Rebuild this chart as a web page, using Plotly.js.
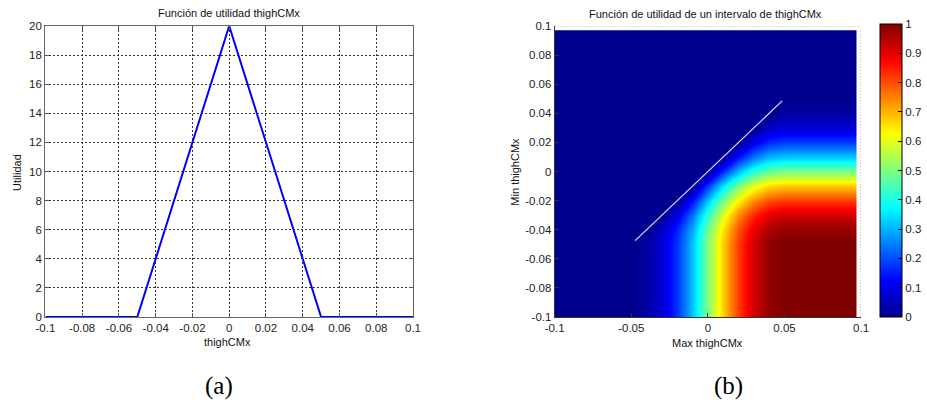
<!DOCTYPE html>
<html>
<head>
<meta charset="utf-8">
<script src="https://cdn.plot.ly/plotly-3.0.1.min.js"></script>
<style>
html,body{margin:0;padding:0;background:#fff;}
#chart{width:927px;height:404px;}
</style>
</head>
<body>
<div id="chart"></div>
<script>
// ---- Panel (a): utility function of thighCMx ----
var utilX = [-0.1, -0.05, 0, 0.05, 0.1];
var utilY = [0, 0, 20, 0, 0];
var aTickVals = [-0.1, -0.08, -0.06, -0.04, -0.02, 0, 0.02, 0.04, 0.06, 0.08, 0.1];
var aTickText = ['-0.1', '-0.08', '-0.06', '-0.04', '-0.02', '0', '0.02', '0.04', '0.06', '0.08', '0.1'];
var aYTickVals = [0, 2, 4, 6, 8, 10, 12, 14, 16, 18, 20];

// ---- Panel (b): utility of an interval [min, max] of thighCMx ----
var gridMax = [-0.1, -0.09, -0.08, -0.07, -0.06, -0.05, -0.04, -0.03, -0.02, -0.01, 0,
               0.01, 0.02, 0.03, 0.04, 0.05, 0.06, 0.07, 0.08, 0.09, 0.1];
var gridMin = [-0.1, -0.09, -0.08, -0.07, -0.06, -0.05, -0.04, -0.03, -0.02, -0.01, 0,
               0.01, 0.02, 0.03, 0.04, 0.05, 0.06, 0.07, 0.08, 0.09, 0.1];
// rows: Min thighCMx (bottom to top), columns: Max thighCMx (left to right)
var utilInterval = [
  [0,0,0,0,0,0,0.02,0.08,0.18,0.32,0.50,0.68,0.82,0.92,0.98,1,1,1,1,1,1],
  [0,0,0,0,0,0,0.02,0.08,0.18,0.32,0.50,0.68,0.82,0.92,0.98,1,1,1,1,1,1],
  [0,0,0,0,0,0,0.02,0.08,0.18,0.32,0.50,0.68,0.82,0.92,0.98,1,1,1,1,1,1],
  [0,0,0,0,0,0,0.02,0.08,0.18,0.32,0.50,0.68,0.82,0.92,0.98,1,1,1,1,1,1],
  [0,0,0,0,0,0,0.02,0.08,0.18,0.32,0.50,0.68,0.82,0.92,0.98,1,1,1,1,1,1],
  [0,0,0,0,0,0,0.02,0.08,0.18,0.32,0.50,0.68,0.82,0.92,0.98,1,1,1,1,1,1],
  [0,0,0,0,0,0,0,0.06,0.16,0.30,0.48,0.66,0.80,0.90,0.96,0.98,0.98,0.98,0.98,0.98,0.98],
  [0,0,0,0,0,0,0,0,0.10,0.24,0.42,0.60,0.74,0.84,0.90,0.92,0.92,0.92,0.92,0.92,0.92],
  [0,0,0,0,0,0,0,0,0,0.14,0.32,0.50,0.64,0.74,0.80,0.82,0.82,0.82,0.82,0.82,0.82],
  [0,0,0,0,0,0,0,0,0,0,0.18,0.36,0.50,0.60,0.66,0.68,0.68,0.68,0.68,0.68,0.68],
  [0,0,0,0,0,0,0,0,0,0,0,0.18,0.32,0.42,0.48,0.50,0.50,0.50,0.50,0.50,0.50],
  [0,0,0,0,0,0,0,0,0,0,0,0,0.14,0.24,0.30,0.32,0.32,0.32,0.32,0.32,0.32],
  [0,0,0,0,0,0,0,0,0,0,0,0,0,0.10,0.16,0.18,0.18,0.18,0.18,0.18,0.18],
  [0,0,0,0,0,0,0,0,0,0,0,0,0,0,0.06,0.08,0.08,0.08,0.08,0.08,0.08],
  [0,0,0,0,0,0,0,0,0,0,0,0,0,0,0,0.02,0.02,0.02,0.02,0.02,0.02],
  [0,0,0,0,0,0,0,0,0,0,0,0,0,0,0,0,0,0,0,0,0],
  [0,0,0,0,0,0,0,0,0,0,0,0,0,0,0,0,0,0,0,0,0],
  [0,0,0,0,0,0,0,0,0,0,0,0,0,0,0,0,0,0,0,0,0],
  [0,0,0,0,0,0,0,0,0,0,0,0,0,0,0,0,0,0,0,0,0],
  [0,0,0,0,0,0,0,0,0,0,0,0,0,0,0,0,0,0,0,0,0],
  [0,0,0,0,0,0,0,0,0,0,0,0,0,0,0,0,0,0,0,0,0]
];
var diagX = [-0.0475, 0.0485];
var diagY = [-0.0475, 0.0485];
var dataEnd = 0.097; // pcolor surface stops short of the axis limit
var bXTickVals = [-0.1, -0.05, 0, 0.05, 0.1];
var bXTickText = ['-0.1', '-0.05', '0', '0.05', '0.1'];
var bYTickVals = [-0.1, -0.08, -0.06, -0.04, -0.02, 0, 0.02, 0.04, 0.06, 0.08, 0.1];
var bYTickText = ['-0.1', '-0.08', '-0.06', '-0.04', '-0.02', '0', '0.02', '0.04', '0.06', '0.08', '0.1'];
var cbTickVals = [0, 0.1, 0.2, 0.3, 0.4, 0.5, 0.6, 0.7, 0.8, 0.9, 1];
var cbTickText = ['0', '0.1', '0.2', '0.3', '0.4', '0.5', '0.6', '0.7', '0.8', '0.9', '1'];

var jet = [
  [0, 'rgb(0,0,143)'],
  [0.125, 'rgb(0,0,255)'],
  [0.375, 'rgb(0,255,255)'],
  [0.625, 'rgb(255,255,0)'],
  [0.875, 'rgb(255,0,0)'],
  [1, 'rgb(128,0,0)']
];

var FONT = 'Liberation Sans, Arial, Helvetica, sans-serif';
var tickFont = {family: FONT, size: 11.5, color: '#222'};
var titleFont = {family: FONT, size: 11, color: '#111'};

var traces = [
  {
    type: 'scatter', mode: 'lines', x: utilX, y: utilY,
    xaxis: 'x', yaxis: 'y',
    line: {color: 'rgb(0,0,255)', width: 2},
    hoverinfo: 'skip', showlegend: false
  },
  {
    type: 'heatmap', x: gridMax, y: gridMin, z: utilInterval,
    xaxis: 'x2', yaxis: 'y2',
    zsmooth: 'best', zmin: 0, zmax: 1, colorscale: jet,
    colorbar: {
      x: 886/927, xanchor: 'left', xpad: 0,
      y: 1 - 317/404, yanchor: 'bottom', ypad: 0,
      len: 293/404, lenmode: 'fraction',
      thickness: 22, thicknessmode: 'pixels',
      outlinewidth: 1, outlinecolor: '#000',
      tickmode: 'array', tickvals: cbTickVals, ticktext: cbTickText,
      ticks: 'inside', ticklen: 4, tickcolor: '#000',
      tickfont: tickFont
    },
    hoverinfo: 'skip'
  },
  {
    type: 'scatter', mode: 'lines', x: diagX, y: diagY,
    xaxis: 'x2', yaxis: 'y2',
    line: {color: 'rgba(235,235,245,0.95)', width: 1.2},
    hoverinfo: 'skip', showlegend: false
  }
];

var yDom = [1 - 317/404, 1 - 26/404];

var layout = {
  width: 927, height: 404,
  margin: {l: 0, r: 0, t: 0, b: 0},
  paper_bgcolor: '#fff', plot_bgcolor: '#fff',
  showlegend: false,
  font: {family: FONT, size: 11, color: '#222'},
  xaxis: {
    domain: [45.7/927, 415.7/927], range: [-0.1, 0.1],
    tickmode: 'array', tickvals: aTickVals, ticktext: aTickText,
    ticks: 'inside', ticklen: 4, tickcolor: '#555',
    showline: true, linecolor: '#666', linewidth: 1.2, mirror: 'ticks',
    showgrid: true, gridcolor: '#333', griddash: '2px,2px', gridwidth: 1,
    zeroline: false, tickfont: tickFont,
    anchor: 'y'
  },
  yaxis: {
    domain: yDom, range: [0, 20],
    tickmode: 'array', tickvals: aYTickVals,
    ticks: 'inside', ticklen: 4, tickcolor: '#555',
    showline: true, linecolor: '#666', linewidth: 1.2, mirror: 'ticks',
    showgrid: true, gridcolor: '#333', griddash: '2px,2px', gridwidth: 1,
    zeroline: false, tickfont: tickFont,
    anchor: 'x'
  },
  xaxis2: {
    domain: [558.3/927, 866.7/927], range: [-0.1, 0.1],
    tickmode: 'array', tickvals: bXTickVals, ticktext: bXTickText,
    ticks: 'inside', ticklen: 4, tickcolor: '#333',
    showline: true, linecolor: '#333', linewidth: 1, mirror: false,
    showgrid: false, zeroline: false, tickfont: tickFont,
    anchor: 'y2'
  },
  yaxis2: {
    domain: yDom, range: [-0.1, 0.1],
    tickmode: 'array', tickvals: bYTickVals, ticktext: bYTickText,
    ticks: 'inside', ticklen: 4, tickcolor: '#333',
    showline: true, linecolor: '#333', linewidth: 1, mirror: false,
    showgrid: false, zeroline: false, tickfont: tickFont,
    anchor: 'x2'
  },
  shapes: [
    {type: 'rect', xref: 'x2', yref: 'y2', x0: dataEnd, x1: 0.1, y0: -0.1, y1: 0.1,
     fillcolor: '#fff', line: {width: 0}, layer: 'above'},
    {type: 'rect', xref: 'x2', yref: 'y2', x0: -0.1, x1: 0.1, y0: dataEnd, y1: 0.1,
     fillcolor: '#fff', line: {width: 0}, layer: 'above'},
    {type: 'line', xref: 'x2', yref: 'y2', x0: -0.1, x1: 0.1, y0: 0.1, y1: 0.1,
     line: {color: '#777', width: 1, dash: '1px,2px'}, layer: 'above'},
    {type: 'line', xref: 'x2', yref: 'y2', x0: 0.1, x1: 0.1, y0: -0.1, y1: 0.1,
     line: {color: '#777', width: 1, dash: '1px,2px'}, layer: 'above'}
  ],
  annotations: [
    {xref: 'paper', yref: 'paper', x: 230.7/927, y: 1 - 13/404, text: 'Función de utilidad thighCMx',
     showarrow: false, xanchor: 'center', yanchor: 'middle', font: titleFont},
    {xref: 'paper', yref: 'paper', x: 710/927, y: 1 - 14/404, text: 'Función de utilidad de un intervalo de thighCMx',
     showarrow: false, xanchor: 'center', yanchor: 'middle', font: titleFont},
    {xref: 'paper', yref: 'paper', x: 229/927, y: 1 - 342/404, text: 'thighCMx',
     showarrow: false, xanchor: 'center', yanchor: 'middle', font: titleFont},
    {xref: 'paper', yref: 'paper', x: 17/927, y: 1 - 172/404, text: 'Utilidad', textangle: -90,
     showarrow: false, xanchor: 'center', yanchor: 'middle', font: titleFont},
    {xref: 'paper', yref: 'paper', x: 712/927, y: 1 - 343/404, text: 'Max thighCMx',
     showarrow: false, xanchor: 'center', yanchor: 'middle', font: titleFont},
    {xref: 'paper', yref: 'paper', x: 518/927, y: 1 - 172/404, text: 'Min thighCMx', textangle: -90,
     showarrow: false, xanchor: 'center', yanchor: 'middle', font: titleFont},
    {xref: 'paper', yref: 'paper', x: 220/927, y: 1 - 386/404, text: '(a)',
     showarrow: false, xanchor: 'center', yanchor: 'middle',
     font: {family: 'Liberation Serif, Times New Roman, serif', size: 25, color: '#000'}},
    {xref: 'paper', yref: 'paper', x: 733/927, y: 1 - 386/404, text: '(b)',
     showarrow: false, xanchor: 'center', yanchor: 'middle',
     font: {family: 'Liberation Serif, Times New Roman, serif', size: 25, color: '#000'}}
  ]
};

Plotly.newPlot('chart', traces, layout, {displayModeBar: false, staticPlot: true});
</script>
</body>
</html>
